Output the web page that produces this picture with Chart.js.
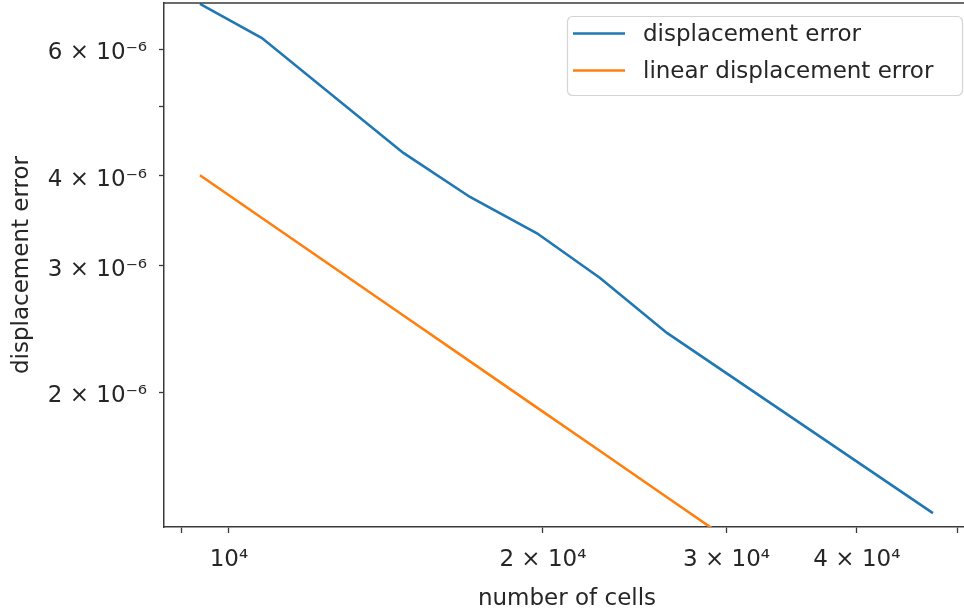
<!DOCTYPE html>
<html>
<head>
<meta charset="utf-8">
<script src="https://cdn.jsdelivr.net/npm/chart.js@4/dist/chart.umd.min.js"></script>
<style>
html, body { margin: 0; padding: 0; overflow: hidden; background: #fff; width: 964px; height: 613px; }
#wrap { width: 970px; height: 613px; position: relative; }
</style>
</head>
<body>
<div id="wrap"><canvas id="c"></canvas></div>
<script>
// ---- data ----
const cells = [9380, 10755, 14686, 17025, 19740, 22690, 26300, 47315];
const displacementError = [6.94e-6, 6.22e-6, 4.31e-6, 3.74e-6, 3.33e-6, 2.885e-6, 2.42e-6, 1.359e-6];
const linearDisplacementError = [4.01e-6, 3.497e-6, 2.561e-6, 2.209e-6, 1.905e-6, 1.658e-6, 1.43e-6, 7.95e-7];
const seriesLabels = ['displacement error', 'linear displacement error'];

const xTickValues = [9000, 10000, 20000, 30000, 40000, 50000];
const xTickLabels = ['', '10\u2074', '2 \u00d7 10\u2074', '3 \u00d7 10\u2074', '4 \u00d7 10\u2074', ''];
const yTickValues = [2e-6, 3e-6, 4e-6, 5e-6, 6e-6];
const yTickLabels = ['2 \u00d7 10\u207b\u2076', '3 \u00d7 10\u207b\u2076', '4 \u00d7 10\u207b\u2076', '', '6 \u00d7 10\u207b\u2076'];

const xTitle = 'number of cells';
const yTitle = 'displacement error';

// ---- styling ----
const FONT = 'DejaVu Sans';
const FS = 23;
const TXT = '#262626';
const SPINE = '#3a3a3a';
const colors = ['#1f77b4', '#ff7f0e'];

function labelFor(values, labels, v) {
  for (let i = 0; i < values.length; i++) {
    if (Math.abs(values[i] - v) / values[i] < 1e-6) return labels[i];
  }
  return '';
}

const topSpine = {
  id: 'topSpine',
  afterDraw(chart) {
    const { ctx, chartArea } = chart;
    ctx.save();
    ctx.strokeStyle = SPINE;
    ctx.lineWidth = 1.5;
    ctx.beginPath();
    ctx.moveTo(chartArea.left - 0.75, chartArea.top);
    ctx.lineTo(chartArea.right, chartArea.top);
    ctx.stroke();
    ctx.restore();
  }
};

const boxLegend = {
  id: 'boxLegend',
  afterDraw(chart) {
    const ctx = chart.ctx;
    ctx.save();
    const x0 = 567.5, y0 = 16.5, w = 395, h = 79;
    ctx.beginPath();
    ctx.roundRect(x0, y0, w, h, 5);
    ctx.fillStyle = 'rgba(255,255,255,0.8)';
    ctx.fill();
    ctx.strokeStyle = '#d4d4d4';
    ctx.lineWidth = 1.2;
    ctx.stroke();
    chart.data.datasets.forEach((ds, i) => {
      const y = 33.5 + i * 37;
      ctx.strokeStyle = ds.borderColor;
      ctx.lineWidth = 2.6;
      ctx.beginPath();
      ctx.moveTo(573, y);
      ctx.lineTo(625, y);
      ctx.stroke();
      ctx.fillStyle = TXT;
      ctx.font = FS + 'px "' + FONT + '"';
      ctx.textBaseline = 'middle';
      ctx.textAlign = 'left';
      ctx.fillText(ds.label, 643, y + 1.5);
    });
    ctx.restore();
  }
};

new Chart(document.getElementById('c'), {
  type: 'line',
  data: {
    datasets: [
      {
        label: seriesLabels[0],
        data: cells.map((x, i) => ({ x: x, y: displacementError[i] })),
        borderColor: colors[0],
        backgroundColor: colors[0],
        borderWidth: 2.6,
        pointRadius: 0,
        tension: 0,
        fill: false
      },
      {
        label: seriesLabels[1],
        data: cells.map((x, i) => ({ x: x, y: linearDisplacementError[i] })),
        borderColor: colors[1],
        backgroundColor: colors[1],
        borderWidth: 2.6,
        pointRadius: 0,
        tension: 0,
        fill: false
      }
    ]
  },
  options: {
    responsive: true,
    maintainAspectRatio: false,
    animation: false,
    layout: { padding: { top: 3, left: 0, right: 0, bottom: 0 } },
    plugins: { legend: { display: false }, tooltip: { enabled: false } },
    scales: {
      x: {
        type: 'logarithmic',
        min: 8664,
        max: 51350,
        afterBuildTicks: (s) => { s.ticks = xTickValues.map(v => ({ value: v })); },
        afterFit: (s) => { s.height = 86; s.paddingLeft = 0; s.paddingRight = 0; },
        ticks: {
          autoSkip: false,
          maxRotation: 0,
          padding: 13,
          color: TXT,
          font: { family: FONT, size: FS },
          callback: (v) => labelFor(xTickValues, xTickLabels, v)
        },
        grid: { display: true, drawOnChartArea: false, drawTicks: true, tickLength: 6, tickColor: SPINE, tickWidth: 1.3 },
        border: { display: true, color: SPINE, width: 1.5 },
        title: { display: true, text: xTitle, color: TXT, font: { family: FONT, size: FS }, padding: { top: 0, bottom: 0 } }
      },
      y: {
        type: 'logarithmic',
        min: 1.300e-6,
        max: 6.96e-6,
        afterBuildTicks: (s) => { s.ticks = yTickValues.map(v => ({ value: v })); },
        afterFit: (s) => { s.width = 164; s.paddingTop = 0; s.paddingBottom = 0; },
        ticks: {
          autoSkip: false,
          padding: 12,
          labelOffset: 4,
          color: TXT,
          font: { family: FONT, size: FS },
          callback: (v) => labelFor(yTickValues, yTickLabels, v)
        },
        grid: { display: true, drawOnChartArea: false, drawTicks: true, tickLength: 5, tickColor: SPINE, tickWidth: 1.3 },
        border: { display: true, color: SPINE, width: 1.5 },
        title: { display: true, text: yTitle, color: TXT, font: { family: FONT, size: FS }, padding: { top: 8, bottom: 0 } }
      }
    }
  },
  plugins: [topSpine, boxLegend]
});
</script>
</body>
</html>
